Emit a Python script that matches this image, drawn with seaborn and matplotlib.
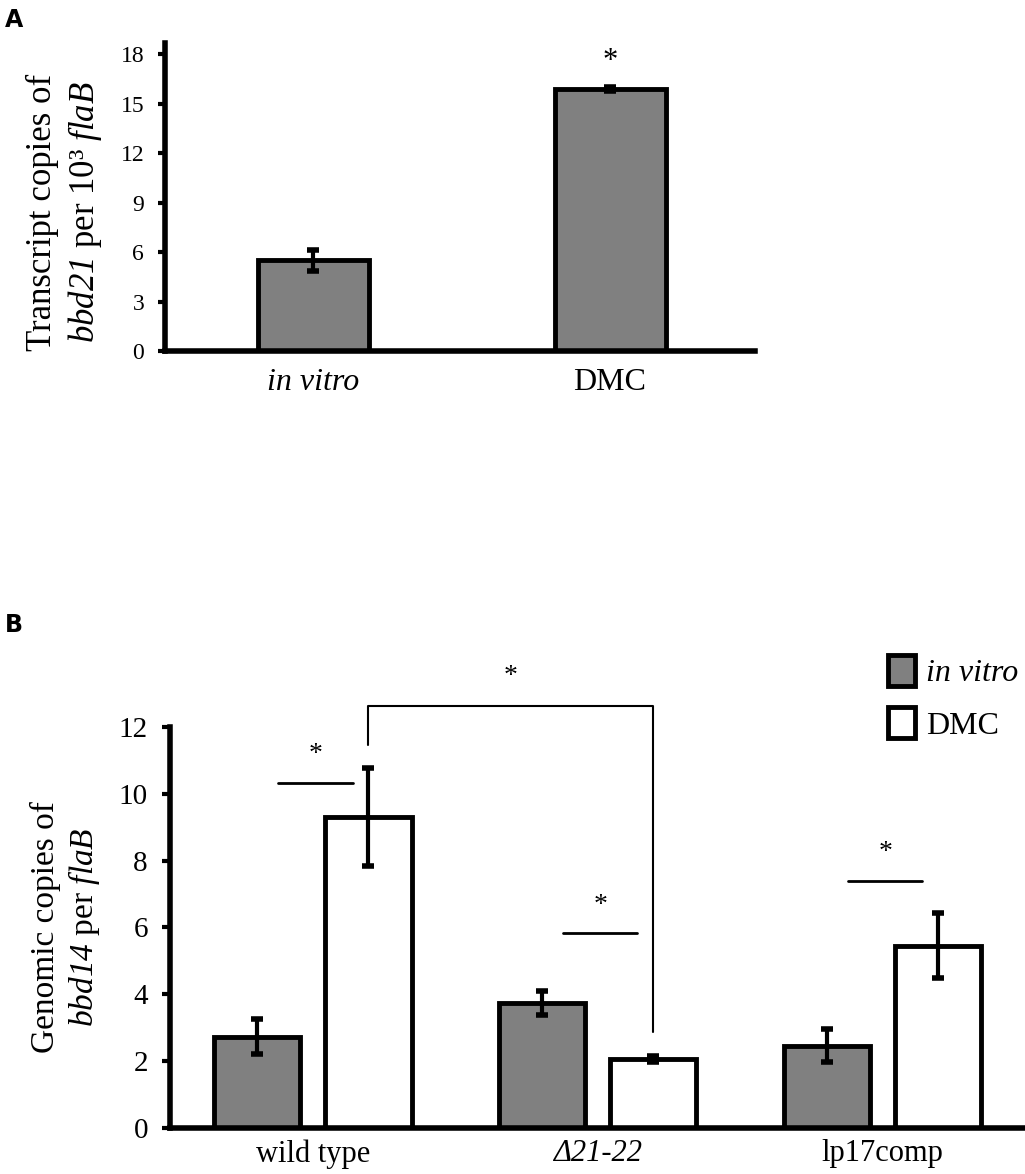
import numpy as np
import pandas as pd
import seaborn as sns
import matplotlib.pyplot as plt
from matplotlib.patches import Patch

# panel A data
a_conditions = ["in vitro", "DMC"]
a_values = [5.5, 15.9]
a_errors = [0.65, 0.12]

# panel B data
b_strains = ["wild type", "\u039421-22", "lp17comp"]
b_conditions = ["in vitro", "DMC"]
b_invitro = [2.74, 3.75, 2.47]
b_invitro_err = [0.52, 0.36, 0.49]
b_dmc = [9.3, 2.07, 5.45]
b_dmc_err = [1.47, 0.1, 0.97]

sns.set_style("ticks")
plt.rcParams["font.family"] = ["Liberation Serif", "DejaVu Serif"]
# math only used for italic gene names, digits included
plt.rcParams["mathtext.fontset"] = "custom"
plt.rcParams["mathtext.rm"] = "Liberation Serif:italic"
plt.rcParams["mathtext.it"] = "Liberation Serif:italic"
for k in ["text.color", "axes.labelcolor", "xtick.color", "ytick.color", "axes.edgecolor"]:
    plt.rcParams[k] = "black"

fig = plt.figure(figsize=(10.25, 11.74), dpi=100)
ax1 = fig.add_axes([0.161, 0.701, 0.576, 0.262])
ax2 = fig.add_axes([0.166, 0.039, 0.834, 0.342])

gray = "#808080"

# ---- panel A
dfa = pd.DataFrame({"cond": a_conditions, "val": a_values})
sns.barplot(data=dfa, x="cond", y="val", ax=ax1, color=gray, width=0.374,
            edgecolor="black", linewidth=3.5, errorbar=None, saturation=1)
xs = [p.get_x() + p.get_width() / 2 for p in ax1.patches]
ax1.errorbar(xs, a_values, yerr=a_errors, fmt="none", ecolor="black",
             elinewidth=3, capsize=4, capthick=4)
ax1.text(xs[1], 17.6, "*", ha="center", va="center", fontsize=22)
ax1.set_xlim(-0.5, 1.49)
ax1.set_ylim(0, 18.67)
ax1.set_yticks(range(0, 19, 3))
ax1.set_xlabel("")
ax1.set_ylabel("Transcript copies of\n$bbd21$ per 10\u00b3 $flaB$",
               fontsize=25, labelpad=12, linespacing=1.25)
ax1.yaxis.label.set_y(0.45)
ax1.tick_params(axis="y", labelsize=17, width=3, length=5, pad=10)
ax1.tick_params(axis="x", labelsize=23, length=0, pad=12)
ax1.get_xticklabels()[0].set_fontstyle("italic")
sns.despine(ax=ax1)
for s in ["left", "bottom"]:
    ax1.spines[s].set_linewidth(4)

# ---- panel B
dfb = pd.DataFrame({
    "strain": b_strains * 2,
    "cond": ["in vitro"] * 3 + ["DMC"] * 3,
    "val": b_invitro + b_dmc,
})
sns.barplot(data=dfb, x="strain", y="val", hue="cond", ax=ax2,
            palette=[gray, "white"], width=0.78, gap=0.22,
            edgecolor="black", linewidth=3.5, errorbar=None, saturation=1,
            legend=False)
bars = [p for p in ax2.patches if p.get_height() > 0]
bx = [p.get_x() + p.get_width() / 2 for p in bars]
ax2.errorbar(bx[:3], b_invitro, yerr=b_invitro_err, fmt="none", ecolor="black",
             elinewidth=3, capsize=4, capthick=4)
ax2.errorbar(bx[3:], b_dmc, yerr=b_dmc_err, fmt="none", ecolor="black",
             elinewidth=3, capsize=4, capthick=4)

# significance marks
for i, yl in zip(range(3), [10.33, 5.82, 7.39]):
    ax2.plot([i - 0.12, i + 0.14], [yl, yl], color="black", lw=2, clip_on=False)
    ax2.text(i + 0.01, yl + 0.85, "*", ha="center", va="center", fontsize=20)
ax2.plot([bx[3], bx[3], bx[4], bx[4]], [11.45, 12.63, 12.63, 2.89],
         color="black", lw=1.5, clip_on=False)
ax2.text((bx[3] + bx[4]) / 2, 13.5, "*", ha="center", va="center", fontsize=20)

ax2.set_xlim(-0.5, 2.5)
ax2.set_ylim(0, 12)
ax2.set_yticks(range(0, 13, 2))
ax2.set_xlabel("")
ax2.set_ylabel("Genomic copies of\n$bbd14$ per $flaB$",
               fontsize=24, labelpad=12, linespacing=1.2)
ax2.tick_params(axis="y", labelsize=21, width=3, length=6, pad=10)
ax2.tick_params(axis="x", labelsize=22, length=0, pad=8)
ax2.get_xticklabels()[1].set_fontstyle("italic")
sns.despine(ax=ax2)
for s in ["left", "bottom"]:
    ax2.spines[s].set_linewidth(4)

handles = [Patch(facecolor=gray, edgecolor="black", linewidth=3.5),
           Patch(facecolor="white", edgecolor="black", linewidth=3.5)]
leg = fig.legend(handles, b_conditions, loc="upper left",
                 bbox_to_anchor=(0.866, 0.442), frameon=False, fontsize=23,
                 handlelength=0.85, handleheight=1.1, handletextpad=0.35,
                 labelspacing=0.6, borderpad=0, borderaxespad=0)
leg.get_texts()[0].set_fontstyle("italic")

fig.text(0.005, 0.993, "A", fontsize=17, fontweight="bold", family="DejaVu Sans",
         va="top")
fig.text(0.005, 0.478, "B", fontsize=17, fontweight="bold", family="DejaVu Sans",
         va="top")

fig.savefig("out.png", dpi=100)
